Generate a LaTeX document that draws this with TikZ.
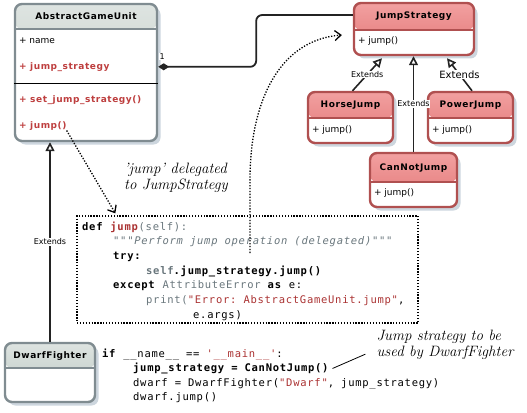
\documentclass[tikz,border=0pt]{standalone}
\usepackage{fontspec}
\setmonofont{DejaVu Sans Mono}[LetterSpace=7]
\newfontfamily\umlfont{DejaVu Sans}[BoldFeatures={LetterSpace=6}]
\usetikzlibrary{arrows.meta, shadows}

\definecolor{umlgray}{RGB}{128,140,145}
\definecolor{graytop}{RGB}{222,228,225}
\definecolor{graybot}{RGB}{185,198,192}
\definecolor{umlred}{RGB}{176,80,80}
\definecolor{redtop}{RGB}{242,160,160}
\definecolor{redbot}{RGB}{226,118,118}
\definecolor{shadowcol}{RGB}{205,214,222}
\definecolor{txtred}{RGB}{190,62,62}
\definecolor{codered}{RGB}{170,50,50}
\definecolor{codegray}{RGB}{105,118,124}
\definecolor{linecol}{RGB}{35,35,35}

\newcommand{\kw}[1]{\textbf{#1}}
\newcommand{\gr}[1]{\textcolor{codegray}{#1}}
\newcommand{\rd}[1]{\textcolor{codered}{#1}}

\begin{document}
\begin{tikzpicture}[
    x=1pt, y=-1pt,
    classbox/.style={rectangle, line width=2.4pt, rounded corners=7pt, fill=white, inner sep=0pt,
        drop shadow={shadow xshift=3.5pt, shadow yshift=-3.5pt, opacity=1, fill=shadowcol}},
    grayclass/.style={classbox, draw=umlgray, path picture={
        \fill[top color=graytop, bottom color=graybot] (path picture bounding box.north west) rectangle ([yshift=-#1]path picture bounding box.north east);
        \draw[umlgray, line width=1.5pt] ([yshift=-#1]path picture bounding box.north west) -- ([yshift=-#1]path picture bounding box.north east);}},
    redclass/.style={classbox, draw=umlred, path picture={
        \fill[top color=redtop, bottom color=redbot] (path picture bounding box.north west) rectangle ([yshift=-#1]path picture bounding box.north east);
        \draw[umlred, line width=1.5pt] ([yshift=-#1]path picture bounding box.north west) -- ([yshift=-#1]path picture bounding box.north east);}},
    title/.style={font=\umlfont\bfseries\fontsize{9}{10}\selectfont, inner sep=0pt},
    member/.style={anchor=west, font=\umlfont\fontsize{9}{10}\selectfont, inner sep=0pt, text height=7pt, text depth=2pt},
    redmember/.style={member, font=\umlfont\bfseries\fontsize{9}{10}\selectfont, text=txtred},
    extends/.style={-{Triangle[open, fill=white, length=9pt, width=9pt]}, line width=1.6pt, draw=linecol},
    extlabel/.style={midway, fill=white, inner sep=0.6pt, font=\umlfont\fontsize{8}{9}\selectfont},
    comp/.style={{Diamond[length=11pt, width=7pt]}-, line width=1.8pt, draw=linecol, rounded corners=6pt},
    code/.style={anchor=base west, inner sep=0pt, font=\ttfamily\fontsize{10.5}{12}\selectfont},
    note/.style={align=left, font=\itshape\fontsize{15}{16.5}\selectfont, inner sep=0pt},
    dots/.style={line width=1.3pt, dash pattern=on 1.3pt off 1.6pt},
    dotarrow/.style={dots, -{Straight Barb[length=6pt, width=10pt]}}
]
\useasboundingbox (0,0) rectangle (527,412);

% classes
\node[grayclass=25pt, minimum width=142pt, minimum height=137pt] (agu) at (86,72.5) {};
\node[title] (agutitle) at ([yshift=-13pt]agu.north) {AbstractGameUnit};
\node[member] (agua1) at ([xshift=5pt,yshift=-38pt]agu.north west) {+ name};
\node[redmember] (agua2) at ([xshift=5pt,yshift=-64pt]agu.north west) {+ jump\_strategy};
\draw[line width=0.8pt] ([yshift=-81pt]agu.north west) -- ([yshift=-81pt]agu.north east);
\node[redmember] (agum1) at ([xshift=5pt,yshift=-97pt]agu.north west) {+ set\_jump\_strategy()};
\node[redmember] (agum2) at ([xshift=5pt,yshift=-123pt]agu.north west) {+ jump()};

\node[redclass=27pt, minimum width=120pt, minimum height=52pt] (js) at (414,29) {};
\node[title] (jstitle) at ([yshift=-14pt]js.north) {JumpStrategy};
\node[member] (jsm) at ([xshift=5pt,yshift=-39pt]js.north west) {+ jump()};

\node[redclass=26pt, minimum width=85pt, minimum height=51pt] (hj) at (350.5,117.5) {};
\node[title] (hjtitle) at ([yshift=-14.5pt]hj.north) {HorseJump};
\node[member] (hjm) at ([xshift=5pt,yshift=-39pt]hj.north west) {+ jump()};

\node[redclass=26pt, minimum width=85pt, minimum height=51pt] (pj) at (470.5,117.5) {};
\node[title] (pjtitle) at ([yshift=-14.5pt]pj.north) {PowerJump};
\node[member] (pjm) at ([xshift=5pt,yshift=-39pt]pj.north west) {+ jump()};

\node[redclass=29pt, minimum width=87pt, minimum height=54pt] (cnj) at (413.5,180) {};
\node[title] (cnjtitle) at ([yshift=-16pt]cnj.north) {CanNotJump};
\node[member] (cnjm) at ([xshift=5pt,yshift=-41pt]cnj.north west) {+ jump()};

\node[grayclass=25pt, minimum width=90pt, minimum height=59pt] (df) at (50,372.5) {};
\node[title] (dftitle) at ([yshift=-14pt]df.north) {DwarfFighter};

% relations
\draw[comp] (agu.east |- agua2) -- ++(98,0) |- ([yshift=14pt]js.west);
\node[fill=white, inner sep=0.5pt, font=\umlfont\fontsize{8}{9}\selectfont] (mult) at ([xshift=4pt,yshift=10pt]agu.east |- agua2) {1};

\draw[extends] ([xshift=2pt]hj.north) -- ([xshift=-32pt,yshift=-2pt]js.south) node[extlabel] (ext1) {Extends};
\draw[extends] (cnj.north) -- (cnj.north |- js.south) node[extlabel] (ext2) {Extends};
\draw[extends] ([xshift=1.5pt]pj.north) -- ([xshift=33pt,yshift=-2pt]js.south) node[extlabel, font=\umlfont\fontsize{10}{11}\selectfont] (ext3) {Extends};
\draw[extends] (df.north) -- (df.north |- agu.south) node[extlabel] (ext4) {Extends};

% code box
\node[draw, dots, minimum width=341pt, minimum height=107pt, inner sep=0pt] (codebox) at (247.5,269.5) {};
\node[code] (c1) at (82,230) {\kw{def} \rd{\kw{jump}}\gr{(self):}};
\node[code] (c2) at (113,244.7) {\gr{\itshape """Perform jump operation (delegated)"""}};
\node[code] (c3) at (113,259.3) {\kw{try:}};
\node[code] (c4) at (146,274) {\kw{\gr{self}.jump\_strategy.jump()}};
\node[code] (c5) at (113,288.7) {\kw{except} \gr{AttributeError} \kw{as} e:};
\node[code] (c6) at (146,303.3) {\gr{print(}\rd{"Error: AbstractGameUnit.jump"},};
\node[code] (c7) at (193,318) {e.args)};

\node[code] (m1) at (102,357) {\kw{if} \_\_name\_\_ == \rd{'\_\_main\_\_'}:};
\node[code] (m2) at (133,371.5) {\kw{jump\_strategy = CanNotJump()}};
\node[code] (m3) at (133,386) {dwarf = DwarfFighter(\rd{"Dwarf"}, jump\_strategy)};
\node[code] (m4) at (133,400.5) {dwarf.jump()};

% notes
\node[note] (note1) at (176,178) {'jump' delegated\\to JumpStrategy};
\node[note] (note2) at (445,345) {Jump strategy to be\\used by DwarfFighter};
\draw[line width=0.8pt] ([xshift=3pt]m2.east) -- ([xshift=-11pt,yshift=6pt]note2.south west);

\draw[dotarrow] (agum2.south east) -- ([xshift=39pt,yshift=2pt]codebox.north west);
\coordinate (delegate) at (250,253);
\draw[dotarrow] (delegate) -- (250,180) .. controls (250,100) and (280,40) .. ([xshift=-11pt,yshift=-6pt]js.west);
\end{tikzpicture}
\end{document}
